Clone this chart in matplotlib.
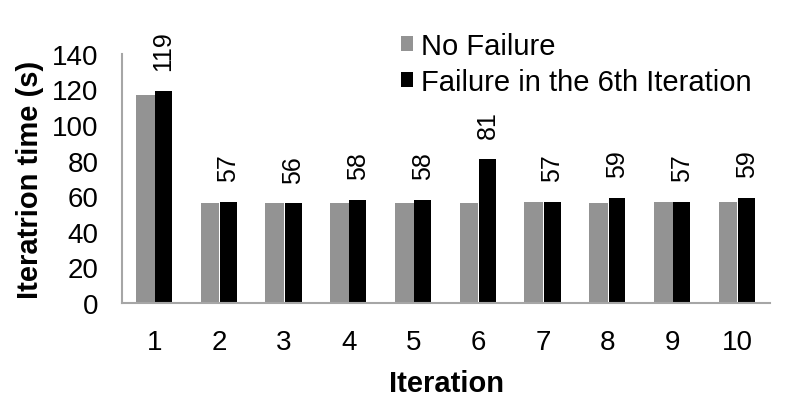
import matplotlib
matplotlib.use("Agg")
import matplotlib.pyplot as plt
import numpy as np

categories = ["1", "2", "3", "4", "5", "6", "7", "8", "9", "10"]
no_failure = [117, 56, 56, 56, 56, 56, 57, 56, 57, 57]
failure_6th = [119, 57, 56, 58, 58, 81, 57, 59, 57, 59]
yticks = [0, 20, 40, 60, 80, 100, 120, 140]

plt.rcParams['font.family'] = ['Liberation Sans', 'DejaVu Sans']

fig = plt.figure(figsize=(7.88, 4.06), dpi=100)
ax = fig.add_axes([0.155, 0.251, 0.822, 0.614])

x = np.arange(len(categories))
w = 0.28
ax.bar(x - w / 2 - 0.005, no_failure, width=w + 0.01, color="#939393", label="No Failure")
ax.bar(x + w / 2, failure_6th, width=w - 0.02, color="black", label="Failure in the 6th Iteration")

for xi, v in zip(x, failure_6th):
    ax.annotate(str(v), (xi + w / 2, v), xytext=(0, 15), textcoords="offset points",
                rotation=90, ha="center", va="bottom", fontsize=18)

ax.set_xlim(-0.5, len(categories) - 0.5)
ax.set_ylim(0, 140)
ax.set_xticks(x)
ax.set_xticklabels(categories)
ax.set_yticks(yticks)
ax.tick_params(axis="both", length=0, labelsize=20)
ax.tick_params(axis="x", pad=19)
ax.tick_params(axis="y", pad=17)

for s in ["top", "right"]:
    ax.spines[s].set_visible(False)
for s in ["left", "bottom"]:
    ax.spines[s].set_color("#a6a6a6")
    ax.spines[s].set_linewidth(1.5)

ax.set_xlabel("Iteration", fontsize=21, fontweight="bold", labelpad=10)
ax.set_ylabel("Iteratrion time (s)", fontsize=21, fontweight="bold", labelpad=6)

fig.legend(loc="upper left", bbox_to_anchor=(0.509, 0.918), frameon=False, fontsize=21,
           handlelength=0.42, handleheight=0.42, handletextpad=0.25, labelspacing=0.25,
           borderaxespad=0, borderpad=0)

fig.savefig("out.png", dpi=100)
